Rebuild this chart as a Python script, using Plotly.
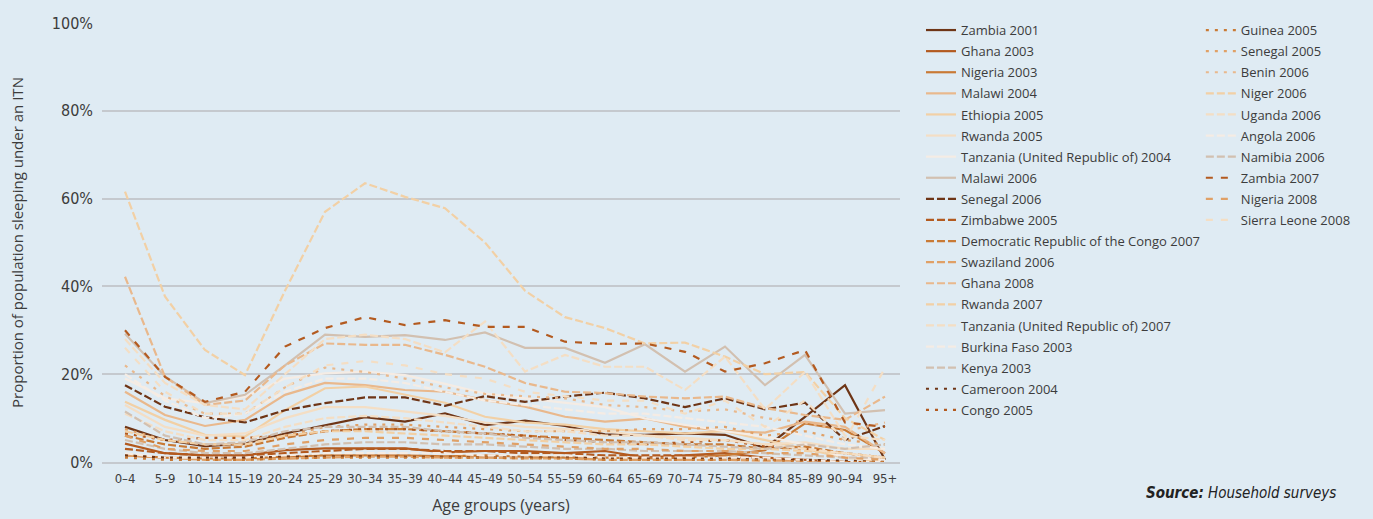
import plotly.graph_objects as go

# ── data (% of population sleeping under an ITN, by age group) ──
ages = ["0–4", "5–9", "10–14", "15–19", "20–24", "25–29", "30–34", "35–39", "40–44", "45–49",
        "50–54", "55–59", "60–64", "65–69", "70–74", "75–79", "80–84", "85–89", "90–94", "95+"]
y_ticks = [0, 20, 40, 60, 80, 100]
y_tick_labels = ["0%", "20%", "40%", "60%", "80%", "100%"]

zambia_2001    = [8.0, 5.0, 3.6, 4.2, 6.5, 8.4, 10.2, 9.2, 11.1, 8.4, 9.4, 8.2, 6.3, 6.2, 6.5, 6.2, 3.2, 10.3, 17.5, 0.5]
ghana_2003     = [4.2, 2.0, 1.5, 1.5, 2.7, 3.1, 3.1, 3.1, 2.2, 2.5, 2.5, 2.0, 2.5, 1.0, 1.5, 2.0, 1.0, 0.5, 0.0, 0.0]
nigeria_2003   = [1.5, 1.0, 0.8, 0.8, 1.2, 1.5, 1.5, 1.5, 1.3, 1.5, 1.2, 1.0, 1.0, 0.8, 1.0, 1.5, 2.7, 8.8, 7.3, 2.0]
malawi_2004    = [16.0, 10.7, 8.2, 9.6, 15.3, 18.0, 17.5, 16.4, 16.0, 14.1, 12.6, 10.3, 9.2, 9.9, 8.0, 7.1, 6.7, 9.2, 8.0, 2.0]
ethiopia_2005  = [13.7, 9.6, 6.2, 5.8, 11.8, 16.8, 17.2, 15.3, 13.5, 10.3, 9.0, 8.5, 7.5, 7.0, 6.5, 7.0, 5.0, 3.0, 1.0, 0.0]
rwanda_2005    = [13.0, 8.0, 6.0, 6.5, 10.0, 12.5, 12.5, 11.5, 10.5, 9.0, 8.0, 7.5, 7.0, 6.0, 5.5, 5.0, 4.0, 4.5, 3.0, 3.0]
tanzania_2004  = [19.0, 14.5, 13.4, 14.9, 19.0, 20.2, 20.6, 19.8, 17.8, 15.6, 14.5, 13.5, 12.5, 9.9, 8.5, 7.0, 5.8, 4.0, 1.0, 0.5]
malawi_2006    = [29.2, 19.5, 13.4, 15.3, 22.0, 29.0, 28.5, 28.9, 27.8, 29.5, 26.0, 26.0, 22.6, 26.8, 20.6, 26.3, 17.5, 24.4, 11.0, 11.8]
senegal_2006   = [17.5, 12.6, 10.2, 9.0, 11.8, 13.4, 14.7, 14.7, 12.8, 15.0, 13.7, 14.9, 15.8, 14.5, 12.5, 14.5, 12.0, 13.5, 5.0, 8.2]
zimbabwe_2005  = [3.0, 2.0, 1.5, 1.5, 2.0, 2.5, 3.0, 3.0, 2.5, 2.5, 2.0, 2.0, 1.5, 1.5, 1.5, 1.0, 1.0, 0.5, 0.0, 0.0]
drc_2007       = [6.0, 4.0, 3.0, 3.5, 5.5, 7.0, 7.5, 7.5, 7.0, 6.5, 6.0, 5.5, 5.0, 4.5, 4.0, 4.0, 3.0, 3.5, 2.0, 1.0]
swaziland_2006 = [1.5, 1.0, 0.5, 0.5, 0.8, 1.0, 1.2, 1.2, 1.0, 1.0, 0.8, 0.8, 0.5, 0.5, 0.5, 0.5, 0.3, 0.3, 0.0, 0.0]
ghana_2008     = [42.2, 19.4, 13.0, 14.0, 22.0, 27.0, 26.7, 26.7, 24.4, 21.7, 18.0, 16.0, 15.7, 14.9, 14.5, 14.9, 12.3, 10.7, 9.6, 14.9]
rwanda_2007    = [61.6, 37.7, 25.5, 19.8, 39.0, 57.0, 63.5, 60.4, 57.8, 50.0, 39.0, 33.0, 30.5, 27.0, 27.2, 24.0, 20.0, 20.5, 10.0, 5.0]
tanzania_2007  = [28.0, 18.0, 13.0, 12.0, 20.0, 28.0, 29.0, 28.0, 25.0, 32.0, 20.6, 24.4, 21.7, 21.7, 16.4, 24.0, 12.0, 20.5, 6.0, 5.0]
burkina_2003   = [2.0, 1.0, 1.0, 1.0, 1.5, 2.0, 2.0, 2.0, 2.0, 1.5, 1.5, 1.5, 1.0, 1.0, 1.0, 1.0, 1.0, 0.5, 0.0, 0.0]
kenya_2003     = [5.0, 3.0, 2.0, 2.0, 3.0, 4.0, 4.5, 4.5, 4.0, 4.0, 3.5, 3.0, 3.0, 2.5, 2.5, 2.5, 2.0, 1.5, 1.0, 1.0]
cameroon_2004  = [1.5, 1.0, 1.0, 1.0, 1.2, 1.3, 1.3, 1.2, 1.2, 1.0, 1.0, 1.0, 0.8, 0.8, 0.8, 0.8, 0.5, 0.5, 0.3, 0.0]
congo_2005     = [6.5, 5.0, 5.5, 5.5, 6.0, 7.0, 7.5, 7.5, 7.0, 6.5, 6.0, 5.0, 4.5, 4.0, 4.5, 5.0, 3.5, 3.0, 2.0, 1.0]
guinea_2005    = [1.0, 0.5, 0.5, 0.5, 0.8, 1.0, 1.0, 1.0, 1.0, 1.0, 0.8, 0.8, 0.5, 0.5, 0.5, 0.5, 0.5, 0.0, 0.0, 0.0]
senegal_2005   = [7.5, 5.0, 4.0, 4.0, 6.0, 8.0, 8.5, 8.5, 8.0, 7.5, 7.0, 7.0, 7.0, 7.5, 7.5, 8.0, 6.0, 7.0, 5.0, 4.0]
benin_2006     = [22.0, 15.0, 11.0, 11.0, 17.0, 21.5, 20.5, 19.0, 17.0, 15.5, 15.0, 14.5, 13.0, 12.5, 11.5, 12.0, 10.0, 9.0, 7.0, 9.0]
niger_2006     = [7.0, 5.0, 4.0, 4.0, 6.0, 7.0, 7.0, 6.5, 6.0, 5.5, 5.0, 4.5, 4.0, 4.0, 3.5, 3.0, 3.0, 2.5, 2.0, 1.0]
uganda_2006    = [11.0, 7.0, 5.0, 5.0, 8.0, 10.0, 10.5, 10.0, 9.0, 8.0, 7.0, 7.0, 6.0, 6.0, 5.0, 5.0, 4.0, 3.0, 2.0, 1.0]
angola_2006    = [20.0, 14.0, 10.0, 11.0, 16.0, 19.0, 19.0, 18.0, 16.0, 14.0, 13.0, 12.0, 11.0, 11.0, 10.0, 9.0, 8.0, 6.0, 4.0, 3.0]
namibia_2006   = [11.5, 6.0, 4.0, 4.5, 7.0, 8.0, 8.0, 8.0, 7.0, 6.5, 5.5, 5.0, 4.5, 4.5, 4.0, 3.5, 3.0, 4.0, 3.0, 4.0]
zambia_2007    = [30.0, 19.4, 13.7, 16.0, 26.3, 30.5, 33.0, 31.2, 32.3, 30.8, 30.8, 27.4, 26.9, 27.0, 25.1, 20.6, 22.5, 25.5, 9.0, 8.0]
nigeria_2008   = [6.0, 3.0, 2.5, 2.5, 4.0, 5.0, 5.5, 5.5, 5.0, 4.5, 4.0, 3.5, 3.0, 3.0, 2.5, 2.5, 2.0, 2.0, 1.0, 0.5]
sierra_2008    = [26.0, 16.0, 11.0, 11.0, 17.0, 22.0, 23.0, 22.0, 20.0, 19.0, 16.0, 15.0, 14.0, 14.0, 11.0, 14.0, 8.0, 14.0, 5.0, 21.4]

# colour ramp (dark brown -> very light) + warm grey
C1, C2, C3, C4 = "#6e3516", "#b35a1f", "#c97a35", "#e0a066"
C5, C6, C7, C8 = "#e9b88c", "#f2d0a5", "#f4dec4", "#f5ece4"
GREY = "#d2c0b0"

SOLID, DASH, DOT, LDASH = "solid", "8px,3px", "3px,6px", "7px,8px"

series = [
    ("Zambia 2001", zambia_2001, C1, SOLID, "legend"),
    ("Ghana 2003", ghana_2003, C2, SOLID, "legend"),
    ("Nigeria 2003", nigeria_2003, C3, SOLID, "legend"),
    ("Malawi 2004", malawi_2004, C5, SOLID, "legend"),
    ("Ethiopia 2005", ethiopia_2005, C6, SOLID, "legend"),
    ("Rwanda 2005", rwanda_2005, C7, SOLID, "legend"),
    ("Tanzania (United Republic of) 2004", tanzania_2004, C8, SOLID, "legend"),
    ("Malawi 2006", malawi_2006, GREY, SOLID, "legend"),
    ("Senegal 2006", senegal_2006, C1, DASH, "legend"),
    ("Zimbabwe 2005", zimbabwe_2005, C2, DASH, "legend"),
    ("Democratic Republic of the Congo 2007", drc_2007, C3, DASH, "legend"),
    ("Swaziland 2006", swaziland_2006, C4, DASH, "legend"),
    ("Ghana 2008", ghana_2008, C5, DASH, "legend"),
    ("Rwanda 2007", rwanda_2007, C6, DASH, "legend"),
    ("Tanzania (United Republic of) 2007", tanzania_2007, C7, DASH, "legend"),
    ("Burkina Faso 2003", burkina_2003, C8, DASH, "legend"),
    ("Kenya 2003", kenya_2003, GREY, DASH, "legend"),
    ("Cameroon 2004", cameroon_2004, C1, DOT, "legend"),
    ("Congo 2005", congo_2005, C2, DOT, "legend"),
    ("Guinea 2005", guinea_2005, C3, DOT, "legend2"),
    ("Senegal 2005", senegal_2005, C4, DOT, "legend2"),
    ("Benin 2006", benin_2006, C5, DOT, "legend2"),
    ("Niger 2006", niger_2006, C6, DASH, "legend2"),
    ("Uganda 2006", uganda_2006, C7, DASH, "legend2"),
    ("Angola 2006", angola_2006, C8, DASH, "legend2"),
    ("Namibia 2006", namibia_2006, GREY, DASH, "legend2"),
    ("Zambia 2007", zambia_2007, C2, LDASH, "legend2"),
    ("Nigeria 2008", nigeria_2008, C4, LDASH, "legend2"),
    ("Sierra Leone 2008", sierra_2008, C7, LDASH, "legend2"),
]

BG = "#dfebf3"
INK = "#3c3c3c"
NARROW = "Liberation Sans Narrow, DejaVu Sans Condensed, Open Sans, sans-serif"
TEXT = "Open Sans, sans-serif"

fig = go.Figure()
for name, vals, color, dash, leg in series:
    fig.add_trace(go.Scatter(
        x=ages, y=vals, mode="lines", name=name,
        line=dict(color=color, width=2.2, dash=dash),
        legend=leg, legendgroup=name,
        hovertemplate=name + "<br>%{x}: %{y:.1f}%<extra></extra>",
    ))

legend_style = dict(bgcolor="rgba(0,0,0,0)", font=dict(family=TEXT, size=13, color=INK),
                    yanchor="top", xanchor="left", y=1.018,
                    tracegroupgap=1.2, itemwidth=30, maxheight=500)

fig.update_layout(
    width=1373, height=519,
    paper_bgcolor=BG, plot_bgcolor=BG,
    font=dict(family=TEXT, size=14, color=INK),
    margin=dict(l=102, r=473, t=23, b=57),
    legend=dict(**legend_style, x=1.0263),
    # kept just inside the page width so it doesn't push the right margin
    legend2=dict(**legend_style, x=1.377),
    xaxis=dict(
        type="category", range=[-0.575, 19.375], tickangle=0, automargin=False,
        showgrid=False, showline=True, linecolor="#c5c9ce", linewidth=1.5,
        ticks="", ticklabelstandoff=4, tickfont=dict(family=NARROW, size=13, color=INK),
        title=dict(text="Age groups (years)", font=dict(family=TEXT, size=16, color=INK),
                   standoff=14),
    ),
    yaxis=dict(
        range=[0, 100], tickvals=y_ticks, ticktext=y_tick_labels, automargin=False,
        gridcolor="#c5c9ce", gridwidth=1.5, zeroline=False, showline=False,
        ticks="", ticklabelstandoff=8, tickfont=dict(family=NARROW, size=16, color=INK),
        title=dict(text="Proportion of population sleeping under an ITN",
                   font=dict(family=TEXT, size=15, color=INK), standoff=24),
    ),
    annotations=[dict(
        text="<b><i>Source:</i></b><i> Household surveys</i>",
        xref="paper", yref="paper", x=1.549, y=-0.0705, xanchor="right", yanchor="middle",
        showarrow=False, font=dict(family=NARROW, size=15, color="#222"),
    )],
)

# drop the browser's default 8px body margin so the figure sits at the page origin
fig.write_html("out.html", config={"displayModeBar": False},
               post_script="document.body.style.margin='0';")
